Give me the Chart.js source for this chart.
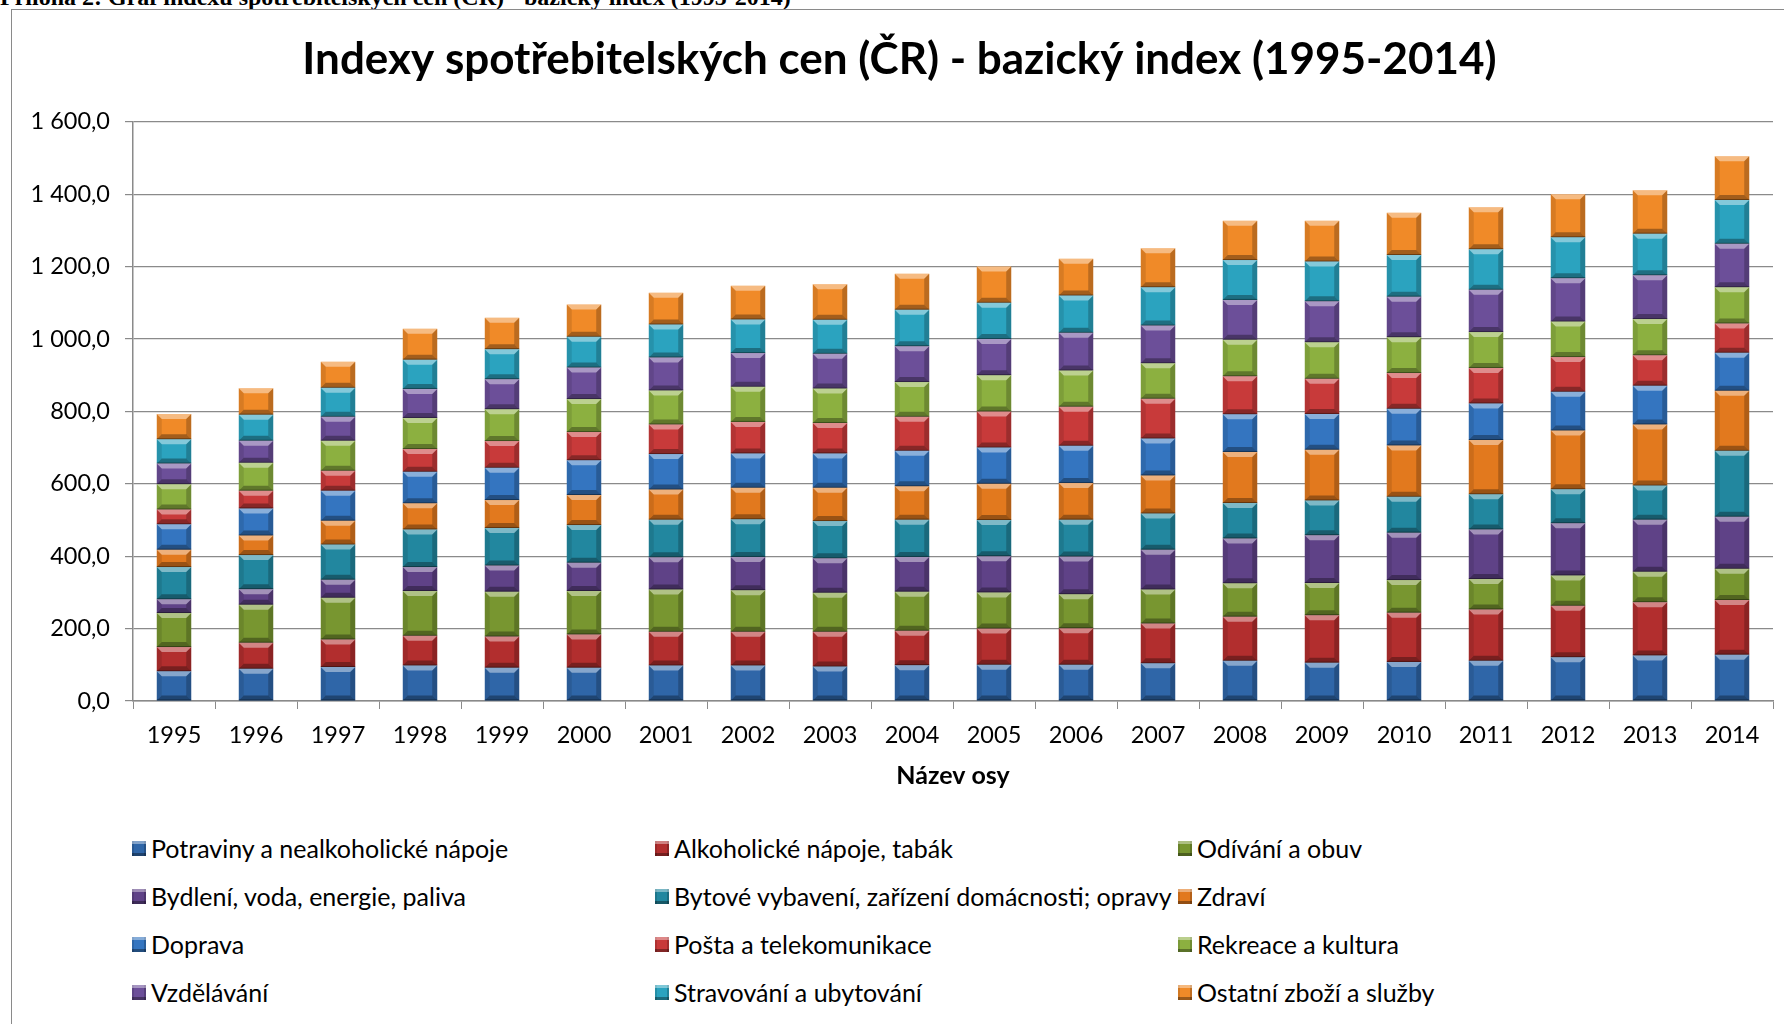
<!DOCTYPE html>
<html>
<head>
<meta charset="utf-8">
<script src="https://cdn.jsdelivr.net/npm/chart.js@4.4.1/dist/chart.umd.min.js"></script>
<style>
    body { margin: 0; background: #fff; width: 1784px; height: 1024px; overflow: hidden; position: relative; font-family: Lato, sans-serif; }
    #header { position: absolute; left: 0; top: -15px; font: bold 24px/24px "Liberation Serif", serif; color: #000; white-space: nowrap; }
    #frame { position: absolute; left: 11px; top: 9px; width: 1800px; height: 1100px; border: 1.5px solid #8a8a8a; }
    #chart { position: absolute; left: 0; top: 0; }
    .leg { position: absolute; display: flex; align-items: center; font-size: 25px; color: #000; white-space: nowrap; }
    .sw { width: 14px; height: 15px; margin-right: 5px; box-sizing: border-box;
          box-shadow: inset 0 3px rgba(255,255,255,.4), inset 0 -3px rgba(0,0,0,.35), inset 2px 0 rgba(0,0,0,.12), inset -2px 0 rgba(0,0,0,.2); }
</style>
</head>
<body>
<div id="header">Příloha 2: Graf indexu spotřebitelských cen (ČR) - bazický index (1995-2014)</div>
<div id="frame"></div>
<canvas id="chart" width="1784" height="800"></canvas>
<div id="legend"></div>
<script>
const years = ['1995','1996','1997','1998','1999','2000','2001','2002','2003','2004','2005','2006','2007','2008','2009','2010','2011','2012','2013','2014'];

const seriesNames = [
    'Potraviny a nealkoholické nápoje',
    'Alkoholické nápoje, tabák',
    'Odívání a obuv',
    'Bydlení, voda, energie, paliva',
    'Bytové vybavení, zařízení domácnosti; opravy',
    'Zdraví',
    'Doprava',
    'Pošta a telekomunikace',
    'Rekreace a kultura',
    'Vzdělávání',
    'Stravování a ubytování',
    'Ostatní zboží a služby'
];

// index values (2005 = 100)
const potraviny   = [82, 89, 94, 98, 92, 92, 98, 98, 95, 99, 100, 100, 104, 111, 106, 108, 111, 121, 126, 128];
const alkohol     = [67, 72, 76, 82, 86, 92, 93, 93, 96, 95, 100, 101, 110, 122, 131, 136, 142, 142, 147, 151];
const odivani     = [94, 105, 115, 124, 124, 120, 117, 115, 108, 108, 100, 94, 94, 92, 89, 90, 84, 84, 84, 86];
const bydleni     = [38, 43, 50, 66, 72, 78, 89, 92, 95, 96, 100, 104, 110, 124, 132, 131, 137, 144, 144, 144];
const bytove      = [89, 94, 97, 104, 104, 104, 104, 104, 103, 103, 100, 102, 100, 98, 96, 99, 97, 94, 94, 182];
const zdravi      = [48, 54, 66, 72, 77, 83, 83, 87, 92, 92, 100, 101, 105, 141, 140, 142, 150, 162, 169, 166];
const doprava     = [70, 75, 83, 87, 89, 96, 98, 95, 95, 98, 100, 103, 102, 104, 99, 101, 101, 107, 107, 105];
const posta       = [41, 49, 55, 63, 74, 78, 82, 87, 84, 94, 100, 108, 110, 105, 97, 99, 98, 96, 84, 81];
const rekreace    = [70, 77, 83, 86, 88, 91, 94, 97, 95, 96, 100, 100, 98, 101, 101, 99, 99, 98, 100, 100];
const vzdelavani  = [57, 61, 66, 80, 83, 87, 91, 93, 96, 99, 100, 104, 104, 110, 113, 112, 117, 120, 121, 120];
const stravovani  = [67, 72, 80, 81, 83, 85, 91, 93, 94, 101, 100, 103, 106, 110, 110, 115, 112, 113, 115, 121];
const ostatni     = [70, 73, 72, 85, 87, 89, 88, 93, 98, 99, 100, 102, 108, 109, 113, 117, 116, 119, 120, 121];

const seriesValues = [potraviny, alkohol, odivani, bydleni, bytove, zdravi, doprava, posta, rekreace, vzdelavani, stravovani, ostatni];

const colors = ['#2f66a8', '#b22e2e', '#789630', '#5f4287', '#22879f', '#e2791e',
                '#3475c0', '#c83a3a', '#8cb040', '#6c4f99', '#2ba3bf', '#f08a28'];

const yTicks = { min: 0, max: 1600, step: 200 };

const formatTick = (v) => {
    const parts = Number(v).toFixed(1).split('.');
    return parts[0].replace(/\B(?=(\d{3})+(?!\d))/g, ' ') + ',' + parts[1];
}

const bevelPlugin = {
    id: 'bevel',
    afterDatasetsDraw(chart) {
        const ctx = chart.ctx;
        chart.data.datasets.forEach((ds, i) => {
            const meta = chart.getDatasetMeta(i);
            meta.data.forEach(el => {
                const p = el.getProps(['x', 'y', 'base', 'width'], true);
                const l = p.x - p.width / 2, r = p.x + p.width / 2;
                const t = Math.min(p.y, p.base), b = Math.max(p.y, p.base);
                const h = b - t;
                if (h < 1) return;
                const s = Math.min(5, h / 2.5, p.width / 3);
                const poly = (pts, fill) => {
                    ctx.beginPath();
                    ctx.moveTo(pts[0][0], pts[0][1]);
                    pts.slice(1).forEach(q => ctx.lineTo(q[0], q[1]));
                    ctx.closePath();
                    ctx.fillStyle = fill;
                    ctx.fill();
                }
                ctx.save();
                poly([[l, t], [r, t], [r - s, t + s], [l + s, t + s]], 'rgba(255,255,255,0.42)');
                poly([[l, b], [r, b], [r - s, b - s], [l + s, b - s]], 'rgba(0,0,0,0.32)');
                poly([[l, t], [l + s, t + s], [l + s, b - s], [l, b]], 'rgba(0,0,0,0.10)');
                poly([[r, t], [r - s, t + s], [r - s, b - s], [r, b]], 'rgba(0,0,0,0.22)');
                ctx.fillStyle = 'rgba(0,0,0,0.35)';
                ctx.fillRect(l, b - 1, p.width, 1);
                ctx.restore();
            });
        });
    }
}

const datasets = seriesNames.map((name, i) => ({
    label: name,
    data: seriesValues[i],
    backgroundColor: colors[i],
    borderWidth: 0,
    barPercentage: 0.42,
    categoryPercentage: 1
}));

const tickFont = { family: 'Lato', size: 23.5 };

const drawChart = () => {
    const ctx = document.getElementById('chart').getContext('2d');
    new Chart(ctx, {
        type: 'bar',
        data: { labels: years, datasets: datasets },
        plugins: [bevelPlugin],
        options: {
            responsive: false,
            animation: false,
            layout: { padding: { left: 26, right: 11, top: 0, bottom: 0 } },
            plugins: {
                legend: { display: false },
                tooltip: { enabled: false },
                title: {
                    display: true,
                    text: 'Indexy spotřebitelských cen (ČR) - bazický index (1995-2014)',
                    color: '#000',
                    font: { family: 'Lato', size: 44, weight: 'bold' },
                    padding: { top: 33, bottom: 36 }
                }
            },
            scales: {
                x: {
                    stacked: true,
                    grid: { display: true, drawOnChartArea: false, drawTicks: true, tickLength: 8, color: '#8a8a8a', offset: true },
                    border: { color: '#8a8a8a', width: 1.5 },
                    ticks: { color: '#000', font: tickFont, padding: 12, maxRotation: 0, autoSkip: false },
                    title: { display: true, text: 'Název osy', color: '#000', font: { family: 'Lato', size: 25, weight: 'bold' }, padding: { top: 0, bottom: 9 } },
                    afterFit: (s) => { s.height = 99; }
                },
                y: {
                    stacked: true,
                    min: yTicks.min,
                    max: yTicks.max,
                    grid: { color: '#8a8a8a', lineWidth: 1.2, drawTicks: true, tickLength: 8 },
                    border: { color: '#8a8a8a', width: 1.5 },
                    ticks: { stepSize: yTicks.step, color: '#000', font: tickFont, padding: 15, callback: (v) => formatTick(v) },
                    afterFit: (s) => { s.width = 107; }
                }
            }
        }
    });
}

const drawLegend = () => {
    const legend = document.getElementById('legend');
    const colX = [132, 655, 1178];
    const rowY = [848, 896, 944, 992];
    seriesNames.forEach((name, i) => {
        const item = document.createElement('div');
        item.className = 'leg';
        item.style.left = colX[i % 3] + 'px';
        item.style.top = (rowY[Math.floor(i / 3)] - 15) + 'px';
        item.style.height = '30px';
        const sw = document.createElement('span');
        sw.className = 'sw';
        sw.style.background = colors[i];
        item.appendChild(sw);
        item.appendChild(document.createTextNode(name));
        legend.appendChild(item);
    });
}

drawChart();
drawLegend();
</script>
</body>
</html>
